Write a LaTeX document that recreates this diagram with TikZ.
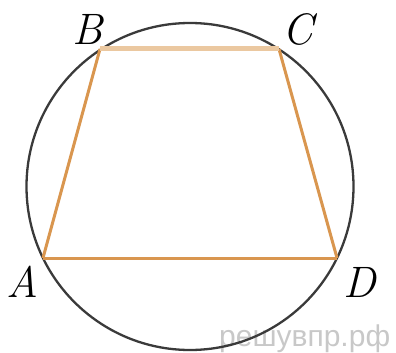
\documentclass[tikz,border=0pt]{standalone}
\usepackage{fontspec}
\newfontfamily\wmfont{Liberation Sans}
\definecolor{circ}{HTML}{3A3A3A}
\definecolor{trap}{HTML}{D9964F}
\definecolor{trapl}{HTML}{EBC8A0}
\definecolor{wm}{HTML}{C8C8C8}
\begin{document}
\begin{tikzpicture}[x=1pt,y=-1pt,
  lbl/.style={font=\fontsize{44}{46}\selectfont\itshape, inner sep=0pt},
  side/.style={draw=trap, line width=3pt}]
\useasboundingbox (0,0) rectangle (396,353);
\node[anchor=base west, text=wm, inner sep=0pt, font=\wmfont\fontsize{30}{32}\selectfont] (wm) at (219,346) {решувпр.рф};
\coordinate (O) at (190,186.5);
\draw[circ, line width=2.3pt] (O) circle (163.5);
\coordinate (A) at (43,258);
\coordinate (B) at (100,49);
\coordinate (C) at (279,49);
\coordinate (D) at (337,258);
\draw[side] (A) -- (B);
\draw[side] (C) -- (D);
\draw[side] (A) -- (D);
\draw[draw=trapl, line width=5pt] (B) -- (C);
\node[lbl] (lA) at (22,282) {A};
\node[lbl] (lB) at (88,29) {B};
\node[lbl] (lC) at (298,29) {C};
\node[lbl] (lD) at (360,282) {D};
\end{tikzpicture}
\end{document}
